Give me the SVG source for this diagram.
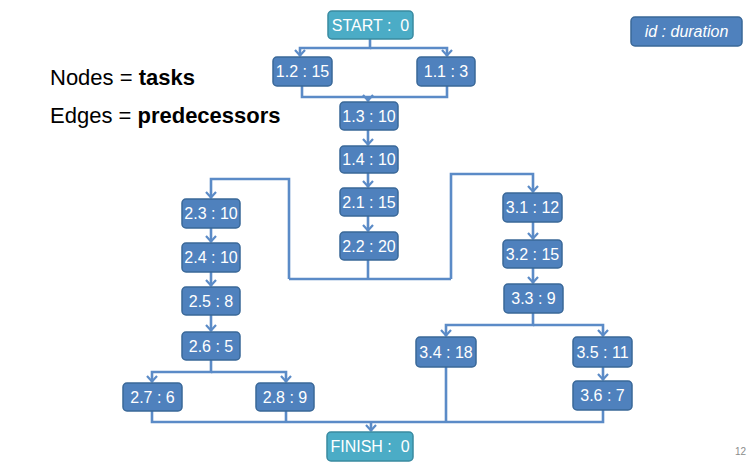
<svg xmlns="http://www.w3.org/2000/svg" width="754" height="465" viewBox="0 0 754 465">
<style>
.n rect{fill:#4F81BD;stroke:#3A6898;stroke-width:1.5}
.t rect{fill:#4BACC6;stroke:#3A8AA0;stroke-width:1.5}
.n text,.t text{font-family:"Liberation Sans",Arial,sans-serif;font-size:16px;fill:#fff;text-anchor:middle}
.c path{fill:none;stroke:#5B8BC7;stroke-width:2.6}
.h{font-family:"Liberation Sans",Arial,sans-serif;font-size:22px;fill:#000}
</style>
<defs>
<marker id="a" viewBox="-8 -6 9 12" refX="0" refY="0" markerWidth="9" markerHeight="12" markerUnits="userSpaceOnUse" orient="auto">
<path d="M-6,-5 L-0.5,0 L-6,5" fill="none" stroke="#5B8BC7" stroke-width="2.2"/>
</marker>
</defs>
<rect width="754" height="465" fill="#fff"/>
<text class="h" x="50" y="85">Nodes = <tspan font-weight="bold">tasks</tspan></text>
<text class="h" x="50" y="123">Edges = <tspan font-weight="bold">predecessors</tspan></text>
<text x="746" y="455" font-family="Liberation Sans,Arial,sans-serif" font-size="10" fill="#8c8c8c" text-anchor="end">12</text>
<g class="c" id="connectors">
<path d="M370,39 V48 H300 V56" marker-end="url(#a)"/>
<path d="M370,48 H447 V56" marker-end="url(#a)"/>
<path d="M302,86 V97 H447 V86"/>
<path d="M368,97 V101" marker-end="url(#a)"/>
<path d="M368,130 V145" marker-end="url(#a)"/>
<path d="M368,173 V187" marker-end="url(#a)"/>
<path d="M368,216 V231" marker-end="url(#a)"/>
<path d="M368,260 V279"/>
<path d="M289,279 H451"/>
<path d="M289,279 V179 H211 V198" marker-end="url(#a)"/>
<path d="M451,279 V174 H533 V192" marker-end="url(#a)"/>
<path d="M211,228 V242" marker-end="url(#a)"/>
<path d="M211,272 V286" marker-end="url(#a)"/>
<path d="M211,315 V331" marker-end="url(#a)"/>
<path d="M211,360 V372 H152 V382" marker-end="url(#a)"/>
<path d="M211,372 H286 V382" marker-end="url(#a)"/>
<path d="M533,222 V239" marker-end="url(#a)"/>
<path d="M533,268 V283" marker-end="url(#a)"/>
<path d="M533,313 V325 H446 V336" marker-end="url(#a)"/>
<path d="M533,325 H603 V336" marker-end="url(#a)"/>
<path d="M603,367 V380" marker-end="url(#a)"/>
<path d="M152,411 V422 H603 V410"/>
<path d="M286,411 V422"/>
<path d="M446,367 V422"/>
<path d="M371,422 V431" marker-end="url(#a)"/>
</g>
<g class="t" id="start"><rect x="328" y="11" width="85" height="28" rx="4"/><text x="370.5" y="31">START : &#160;0</text></g>
<g class="n" id="n12"><rect x="273" y="57" width="59" height="29" rx="4"/><text x="302.5" y="77">1.2 : 15</text></g>
<g class="n" id="n11"><rect x="417" y="57" width="58" height="29" rx="4"/><text x="446" y="77">1.1 : 3</text></g>
<g class="n" id="n13"><rect x="340" y="102" width="58" height="28" rx="4"/><text x="369" y="122">1.3 : 10</text></g>
<g class="n" id="n14"><rect x="340" y="146" width="58" height="27" rx="4"/><text x="369" y="165">1.4 : 10</text></g>
<g class="n" id="n21"><rect x="340" y="188" width="58" height="28" rx="4"/><text x="369" y="208">2.1 : 15</text></g>
<g class="n" id="n22"><rect x="340" y="232" width="58" height="28" rx="4"/><text x="369" y="252">2.2 : 20</text></g>
<g class="n" id="n23"><rect x="182" y="199" width="58" height="29" rx="4"/><text x="211" y="219">2.3 : 10</text></g>
<g class="n" id="n24"><rect x="182" y="243" width="58" height="29" rx="4"/><text x="211" y="263">2.4 : 10</text></g>
<g class="n" id="n25"><rect x="182" y="287" width="58" height="28" rx="4"/><text x="211" y="307">2.5 : 8</text></g>
<g class="n" id="n26"><rect x="182" y="332" width="58" height="28" rx="4"/><text x="211" y="352">2.6 : 5</text></g>
<g class="n" id="n27"><rect x="123" y="383" width="59" height="28" rx="4"/><text x="152.5" y="403">2.7 : 6</text></g>
<g class="n" id="n28"><rect x="256" y="383" width="58" height="28" rx="4"/><text x="285" y="403">2.8 : 9</text></g>
<g class="n" id="n31"><rect x="503" y="193" width="59" height="29" rx="4"/><text x="532.5" y="213">3.1 : 12</text></g>
<g class="n" id="n32"><rect x="503" y="240" width="59" height="28" rx="4"/><text x="532.5" y="260">3.2 : 15</text></g>
<g class="n" id="n33"><rect x="504" y="284" width="59" height="29" rx="4"/><text x="533.5" y="304">3.3 : 9</text></g>
<g class="n" id="n34"><rect x="416" y="337" width="60" height="30" rx="4"/><text x="446" y="358">3.4 : 18</text></g>
<g class="n" id="n35"><rect x="573" y="337" width="59" height="30" rx="4"/><text x="602.5" y="358">3.5 : 11</text></g>
<g class="n" id="n36"><rect x="573" y="381" width="59" height="29" rx="4"/><text x="602.5" y="401">3.6 : 7</text></g>
<g class="t" id="finish"><rect x="327" y="432" width="86" height="29" rx="4"/><text x="370" y="452">FINISH : &#160;0</text></g>
<g class="n" id="legend"><rect x="631" y="17" width="111" height="29" rx="4"/><text x="686.5" y="37" font-style="italic">id : duration</text></g>
</svg>
